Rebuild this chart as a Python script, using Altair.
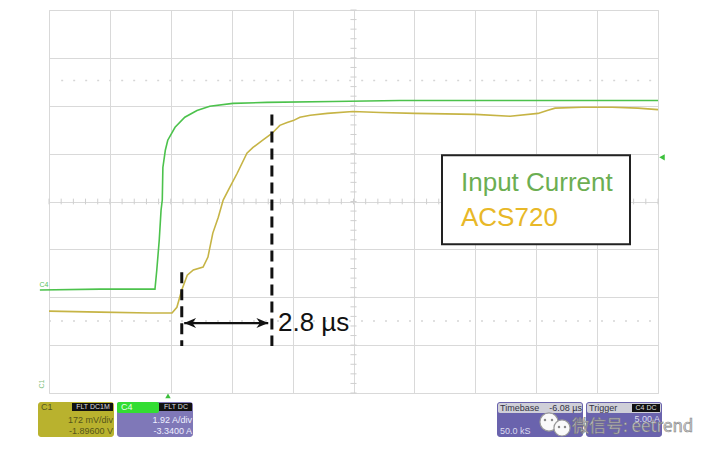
import altair as alt
import pandas as pd

# ---------------- data (screen divisions: x 0..10, y 0..8) ----------------
green_t = [-0.15, 0.84, 1.74, 1.77, 1.81, 1.84, 1.86, 1.87, 1.91, 1.95, 2.07, 2.23,
           2.43, 2.64, 3.02, 3.58, 4.66, 5.76, 7.41, 9.05, 10.0]
green_v = [2.15, 2.17, 2.17, 2.57, 3.19, 3.82, 4.03, 4.71, 5.07, 5.28, 5.55, 5.76,
           5.90, 5.99, 6.05, 6.07, 6.09, 6.11, 6.11, 6.11, 6.11]

yel_t = [0.00, 0.84, 1.66, 2.02, 2.10, 2.18, 2.27, 2.37, 2.53, 2.61, 2.69, 2.78,
         2.86, 2.97, 3.09, 3.25, 3.35, 3.51, 3.66, 3.79, 3.91, 4.01, 4.12, 4.29,
         4.57, 4.99, 5.44, 6.01, 7.00, 7.57, 8.03, 8.18, 8.31, 8.75, 9.25, 9.67, 10.0]
yel_v = [1.71, 1.69, 1.67, 1.67, 1.79, 2.15, 2.46, 2.57, 2.63, 2.84, 3.34, 3.67,
         4.03, 4.30, 4.59, 5.01, 5.13, 5.28, 5.42, 5.59, 5.65, 5.69, 5.76, 5.80,
         5.84, 5.88, 5.86, 5.84, 5.82, 5.78, 5.84, 5.90, 5.95, 5.97, 5.97, 5.95, 5.92]

grid_x = list(range(11))
grid_y = list(range(9))

marker_start = 2.18   # first dashed cursor (div)
marker_end = 3.66     # second dashed cursor (div)
delay_label = "2.8 µs"
legend_names = ["Input Current", "ACS720"]

# ---------------- helpers ----------------
XS = alt.Scale(domain=[0, 10], nice=False, zero=False)
YS = alt.Scale(domain=[0, 8], nice=False, zero=False)
AX = alt.Axis(values=grid_x, grid=True, labels=False, ticks=False, domain=False,
              title=None, gridColor="#d9d9d9", gridWidth=1)
AY = alt.Axis(values=grid_y, grid=True, labels=False, ticks=False, domain=False,
              title=None, gridColor="#d9d9d9", gridWidth=1)


def dx(px):
    return (px - 49) / 60.9


def dy(py):
    return (393 - py) / 47.94


def enc(ch, **kw):
    return ch.encode(x=alt.X("x:Q", scale=XS, axis=AX),
                     y=alt.Y("y:Q", scale=YS, axis=AY), **kw)


def txt(x, y, s, **kw):
    c = alt.Chart(pd.DataFrame({"x": [x], "y": [y]})).mark_text(
        text=s, font="Liberation Sans", **kw)
    return enc(c)


def rect(x1, x2, y1, y2, **kw):
    c = alt.Chart(pd.DataFrame({"x": [x1], "x2": [x2], "y": [y1], "y2": [y2]})).mark_rect(**kw)
    return enc(c, x2="x2:Q", y2="y2:Q")


def hrule(x1, x2, y, **kw):
    c = alt.Chart(pd.DataFrame({"x": [x1], "x2": [x2], "y": [y]})).mark_rule(**kw)
    return enc(c, x2="x2:Q")


def vrule(x, y1, y2, **kw):
    c = alt.Chart(pd.DataFrame({"x": [x], "y": [y1], "y2": [y2]})).mark_rule(**kw)
    return enc(c, y2="y2:Q")


layers = []

# grid base (axes carry the grid)
layers.append(enc(alt.Chart(pd.DataFrame({"x": [0, 10], "y": [0, 8]})).mark_point(opacity=0)))

# center-axis minor ticks
tick_pos_y = [i * 0.2 for i in range(41)]
tick_pos_x = [i * 0.2 for i in range(51)]
ty = pd.DataFrame({"x": [4.95] * len(tick_pos_y), "x2": [5.05] * len(tick_pos_y), "y": tick_pos_y})
layers.append(enc(alt.Chart(ty).mark_rule(color="#cfcfcf", strokeWidth=1), x2="x2:Q"))
tx = pd.DataFrame({"x": tick_pos_x, "y": [3.94] * len(tick_pos_x), "y2": [4.06] * len(tick_pos_x)})
layers.append(enc(alt.Chart(tx).mark_rule(color="#cfcfcf", strokeWidth=1), y2="y2:Q"))

# faint dotted reference rows
layers.append(hrule(0.2, 9.9, dy(80), color="#d6d6d6", strokeWidth=1.5, strokeDash=[2, 10]))
layers.append(hrule(0.0, 9.9, dy(321), color="#d6d6d6", strokeWidth=1.5, strokeDash=[2, 10]))

# traces
gdf = pd.DataFrame({"x": green_t, "y": green_v})
ydf = pd.DataFrame({"x": yel_t, "y": yel_v})
layers.append(enc(alt.Chart(ydf).mark_line(color="#c6b445", strokeWidth=1.6)))
layers.append(enc(alt.Chart(gdf).mark_line(color="#4cc24c", strokeWidth=1.6)))

# channel markers
layers.append(txt(dx(44), dy(285), "C4", fontSize=7, color="#5cbf5c"))
layers.append(txt(dx(42), dy(384), "C1", fontSize=7, color="#7fbf7f", angle=270))
tri = pd.DataFrame({"x": [dx(662)], "y": [dy(157)]})
layers.append(enc(alt.Chart(tri).mark_point(shape="triangle-left", filled=True,
                                            color="#3cc03c", size=40, opacity=1)))
tri2 = pd.DataFrame({"x": [dx(168)], "y": [dy(396)]})
layers.append(enc(alt.Chart(tri2).mark_point(shape="triangle-up", filled=True,
                                             color="#3cc03c", size=30, opacity=1)))

# dashed cursors
layers.append(vrule(marker_start, dy(272), dy(346), color="#111111", strokeWidth=3,
                    strokeDash=[11, 6]))
layers.append(vrule(marker_end, dy(114), dy(346), color="#111111", strokeWidth=3,
                    strokeDash=[11, 6]))

# arrow
ay = dy(323)
layers.append(hrule(marker_start + 0.04, marker_end - 0.06, ay, color="#111111", strokeWidth=2.2))
head_r = "M0,0 L-1,-0.42 L-0.7,0 L-1,0.42 Z"
head_l = "M0,0 L1,-0.42 L0.7,0 L1,0.42 Z"
layers.append(enc(alt.Chart(pd.DataFrame({"x": [marker_end - 0.06], "y": [ay]})).mark_point(
    shape=head_r, filled=True, color="#111111", size=560, opacity=1)))
layers.append(enc(alt.Chart(pd.DataFrame({"x": [marker_start + 0.04], "y": [ay]})).mark_point(
    shape=head_l, filled=True, color="#111111", size=560, opacity=1)))
layers.append(txt(dx(278), ay, delay_label, fontSize=26, align="left", baseline="middle",
                  color="#111111"))

# legend box
layers.append(rect(dx(442), dx(630), dy(155), dy(244), fill="white", stroke="#222222",
                   strokeWidth=2))
layers.append(txt(dx(461), dy(183), legend_names[0], fontSize=26, align="left",
                  baseline="middle", color="#6cae52"))
layers.append(txt(dx(461), dy(218), legend_names[1], fontSize=26, align="left",
                  baseline="middle", color="#e8b828"))

# ---------------- bottom info panels ----------------
top, hb, bot = dy(402), dy(413), dy(437)
# C1
layers.append(rect(dx(38), dx(114), top, bot, fill="#b9b22e", cornerRadius=3))
layers.append(rect(dx(72), dx(113), dy(403), dy(411), fill="#111111"))
layers.append(txt(dx(41), dy(407), "C1", fontSize=9, align="left", baseline="middle", color="#555520"))
layers.append(txt(dx(93), dy(407), "FLT DC1M", fontSize=7, align="center", baseline="middle", color="#dddddd"))
layers.append(txt(dx(113), dy(420), "172 mV/div", fontSize=9, align="right", baseline="middle", color="#55551a"))
layers.append(txt(dx(113), dy(431), "-1.89600 V", fontSize=9, align="right", baseline="middle", color="#55551a"))
# C4
layers.append(rect(dx(117), dx(193), top, bot, fill="#7f78b8", cornerRadius=3))
layers.append(rect(dx(117), dx(159), top, hb, fill="#33dd33", cornerRadius=2))
layers.append(rect(dx(159), dx(192), dy(403), dy(411), fill="#111111"))
layers.append(txt(dx(121), dy(407), "C4", fontSize=9, align="left", baseline="middle", color="#e8ffe8"))
layers.append(txt(dx(176), dy(407), "FLT DC", fontSize=7, align="center", baseline="middle", color="#dddddd"))
layers.append(txt(dx(192), dy(420), "1.92 A/div", fontSize=9, align="right", baseline="middle", color="#eeeeff"))
layers.append(txt(dx(192), dy(431), "-3.3400 A", fontSize=9, align="right", baseline="middle", color="#eeeeff"))
# Timebase
layers.append(rect(dx(497), dx(583), top, bot, fill="#6a63ad", cornerRadius=3))
layers.append(rect(dx(498), dx(582), dy(403), hb, fill="#cfcfd8", cornerRadius=2))
layers.append(txt(dx(500), dy(408), "Timebase", fontSize=9, align="left", baseline="middle", color="#333344"))
layers.append(txt(dx(582), dy(408), "-6.08 µs", fontSize=9, align="right", baseline="middle", color="#333344"))
layers.append(txt(dx(500), dy(431), "50.0 kS", fontSize=9, align="left", baseline="middle", color="#dcdcf0"))
# Trigger
layers.append(rect(dx(586), dx(662), top, bot, fill="#6a63ad", cornerRadius=3))
layers.append(rect(dx(587), dx(661), dy(403), hb, fill="#cfcfd8", cornerRadius=2))
layers.append(rect(dx(632), dx(660), dy(404), dy(412), fill="#111111"))
layers.append(txt(dx(589), dy(408), "Trigger", fontSize=9, align="left", baseline="middle", color="#333344"))
layers.append(txt(dx(646), dy(408), "C4 DC", fontSize=7, align="center", baseline="middle", color="#dddddd"))
layers.append(txt(dx(660), dy(419), "5.00 A", fontSize=9, align="right", baseline="middle", color="#dcdcf0"))

# watermark
bub = pd.DataFrame({"x": [dx(549), dx(562)], "y": [dy(422), dy(428)], "s": [330, 260]})
layers.append(enc(alt.Chart(bub).mark_point(shape="circle", filled=True, fill="#fafafa",
                                            stroke="#9a9a9a", strokeWidth=1.2, opacity=1),
                  size=alt.Size("s:Q", scale=None, legend=None)))
eyes = pd.DataFrame({"x": [dx(545), dx(552), dx(559), dx(565)],
                     "y": [dy(420), dy(420), dy(427), dy(427)]})
layers.append(enc(alt.Chart(eyes).mark_point(shape="circle", filled=True, color="#8a8a8a",
                                             size=6, opacity=1)))
wm = pd.DataFrame({"x": [dx(572)], "y": [dy(427)]})
layers.append(enc(alt.Chart(wm).mark_text(text="微信号: eetrend", font="Noto Sans CJK SC",
                                          fontSize=17, align="left", baseline="middle",
                                          fill="#d4d4d4", stroke="#7a7a7a", strokeWidth=0.6,
                                          opacity=0.95)))

chart = alt.layer(*layers).properties(
    width=609, height=383,
    autosize=alt.AutoSizeParams(type="none"),
    padding={"left": 41, "top": 2, "right": 40, "bottom": 50},
).configure_view(stroke="#c6c6c6", strokeWidth=2).configure(background="white")

chart.save("out.html", embed_options={"renderer": "svg", "actions": False})
